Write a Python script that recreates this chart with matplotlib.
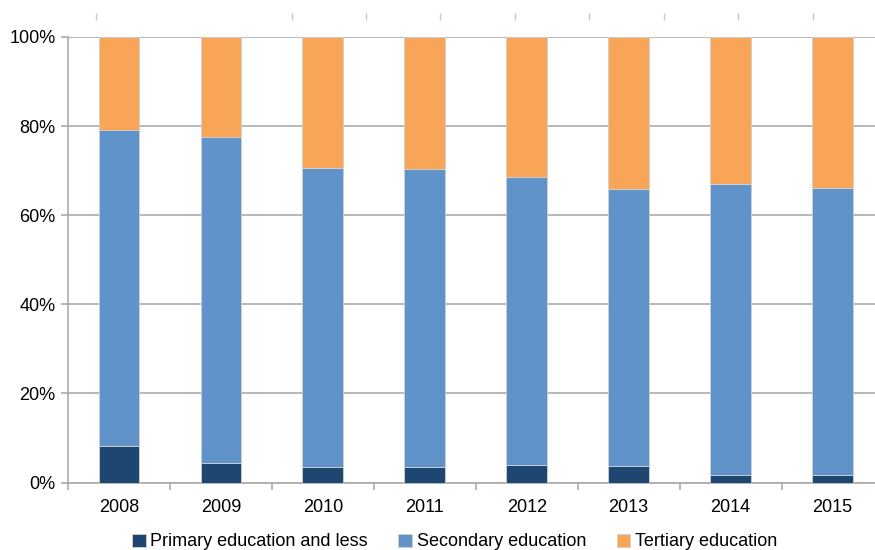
import numpy as np
import matplotlib.pyplot as plt
from matplotlib.ticker import PercentFormatter

plt.rcParams['font.family'] = ['Liberation Sans', 'DejaVu Sans']

years = ['2008', '2009', '2010', '2011', '2012', '2013', '2014', '2015']
primary = [8.1, 4.4, 3.5, 3.5, 3.9, 3.7, 1.6, 1.6]
secondary = [71.1, 73.2, 67.1, 66.8, 64.7, 62.1, 65.4, 64.4]
tertiary = [20.8, 22.4, 29.4, 29.7, 31.4, 34.2, 33.0, 34.0]
labels = ['Primary education and less', 'Secondary education', 'Tertiary education']
colors = ['#1d4670', '#5f93ca', '#f8a557']

# leftover tick row from the panel above (pixel positions)
top_ticks = [96, 292, 366, 440, 515, 589, 664, 738, 813]

W, H = 875, 550
fig = plt.figure(figsize=(W / 100, H / 100), dpi=100)
ax = fig.add_axes([68 / W, 67.5 / H, 815.5 / W, 445.6 / H])

x = np.arange(len(years))
bottom = np.zeros(len(years))
for vals, lab, col in zip([primary, secondary, tertiary], labels, colors):
    ax.bar(x, vals, 0.4, bottom=bottom, color=col, label=lab,
           edgecolor='#d0d0d0', linewidth=0.6, zorder=3)
    bottom += np.array(vals)

grey = '#ababab'
ax.set_xlim(-0.5, len(years) - 0.5)
ax.set_ylim(0, 100)
ax.set_yticks(np.arange(0, 101, 20))
ax.yaxis.set_major_formatter(PercentFormatter(decimals=0))
ax.yaxis.grid(True, color=grey, linewidth=1.2, zorder=0)
ax.set_xticks(x)
ax.set_xticklabels(years)
ax.set_xticks(np.arange(-0.5, len(years), 1), minor=True)
ax.tick_params(axis='x', which='major', length=0, pad=12, labelsize=13)
ax.tick_params(axis='x', which='minor', length=5, color=grey, width=1.2)
ax.tick_params(axis='y', length=5, color=grey, width=1.2, pad=4, labelsize=13)
for s in ['top', 'right']:
    ax.spines[s].set_visible(False)
ax.spines['left'].set_color(grey)
ax.spines['left'].set_linewidth(1.2)
ax.spines['bottom'].set_color(grey)
ax.spines['bottom'].set_linewidth(1.2)

leg = fig.legend(loc='center', bbox_to_anchor=(0.5194, 8 / H), ncol=3, frameon=False,
                 fontsize=13, handlelength=0.75, handleheight=0.75, handletextpad=0.25,
                 columnspacing=1.7, borderaxespad=0)

# tick row at the very top
tax = fig.add_axes([0, 1 - 20 / H, 1, 6 / H])
tax.set_xlim(0, W)
tax.set_ylim(0, 1)
tax.set_xticks(top_ticks)
tax.set_xticklabels([])
tax.set_yticks([])
tax.tick_params(axis='x', direction='in', length=5, color='#c8c8c8', width=1)
for s in tax.spines.values():
    s.set_visible(False)
tax.patch.set_visible(False)

fig.savefig('out.png', dpi=100)
